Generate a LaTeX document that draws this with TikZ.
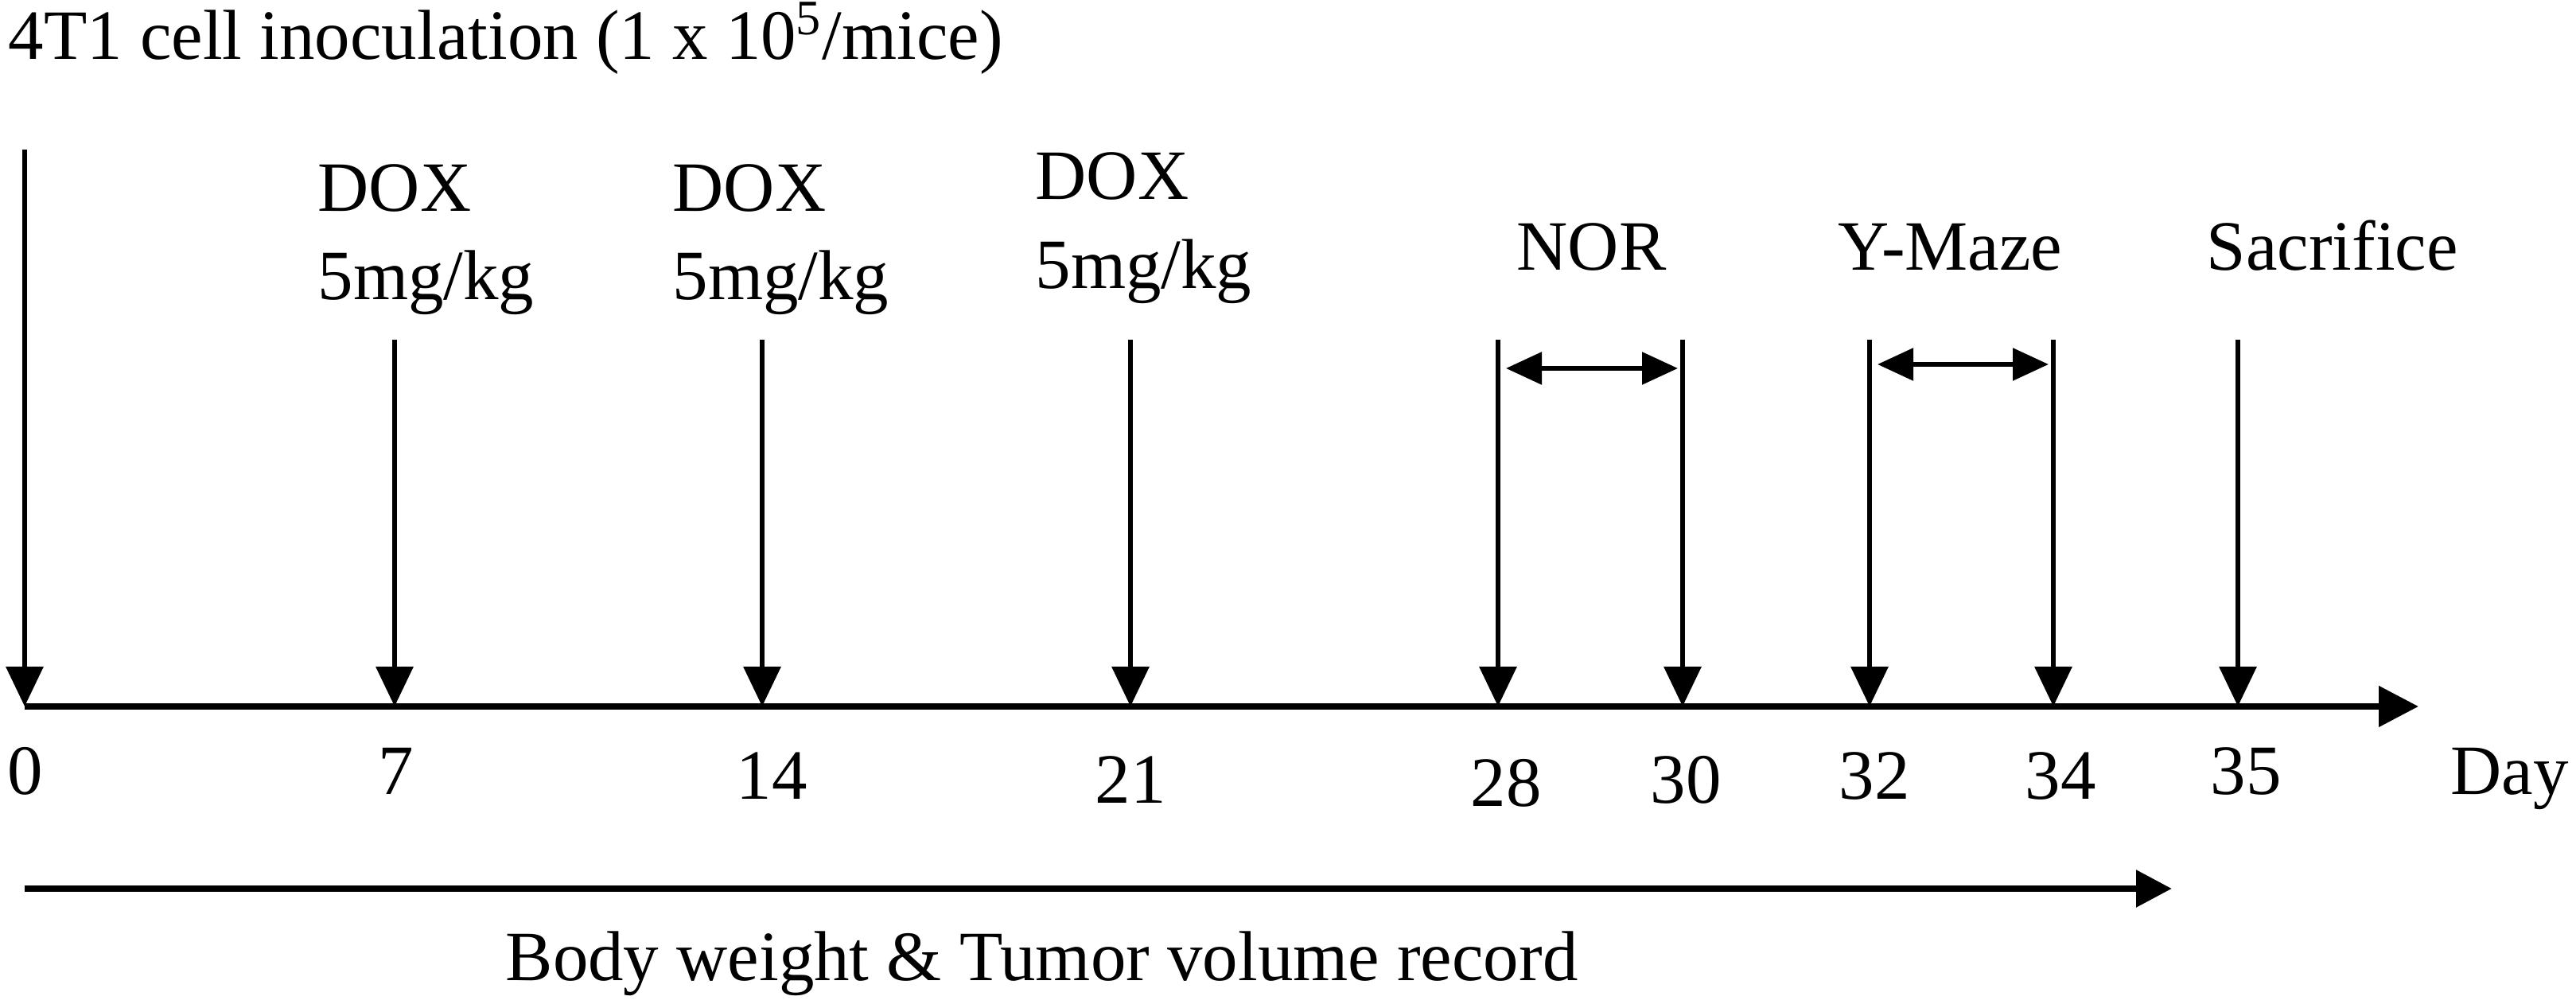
\documentclass[tikz,border=0pt]{standalone}
\usepackage{fontspec}
\setmainfont{Liberation Serif}
\usetikzlibrary{arrows.meta}

\begin{document}
\begin{tikzpicture}[
    txt/.style={inner sep=0pt, anchor=base west, font=\fontsize{25.3}{30}\selectfont},
    num/.style={inner sep=0pt, anchor=base, font=\fontsize{25.3}{30}\selectfont},
    dose/.style={line width=1.8pt, -{Triangle[length=0.5cm,width=0.46cm]}},
    span/.style={line width=1.6pt, {Triangle[length=0.45cm,width=0.4cm]}-{Triangle[length=0.45cm,width=0.4cm]}},
    axis/.style={line width=2.3pt, -{Triangle[length=0.5cm,width=0.5cm]}}
  ]
    \useasboundingbox (0,0) rectangle (32.38,12.62);

    % timeline
    \coordinate (A0) at (0.31,3.74);
    \coordinate (A7) at (4.96,3.74);
    \coordinate (A14) at (9.58,3.74);
    \coordinate (A21) at (14.21,3.74);
    \coordinate (A28) at (18.83,3.74);
    \coordinate (A30) at (21.15,3.74);
    \coordinate (A32) at (23.50,3.74);
    \coordinate (A34) at (25.81,3.74);
    \coordinate (A35) at (28.13,3.74);
    \coordinate (AEnd) at (30.40,3.74);
    \draw[axis] (A0) -- (AEnd);

    % tops of the arrows
    \coordinate (T0) at (0.31,10.74);
    \coordinate (T7) at (4.96,8.35);
    \coordinate (T14) at (9.58,8.35);
    \coordinate (T21) at (14.21,8.35);
    \coordinate (T28) at (18.83,8.35);
    \coordinate (T30) at (21.15,8.35);
    \coordinate (T32) at (23.50,8.35);
    \coordinate (T34) at (25.81,8.35);
    \coordinate (T35) at (28.13,8.35);
    \foreach \d in {0,7,14,21,28,30,32,34,35}
        \draw[dose] (T\d) -- (A\d);

    % test periods
    \coordinate (NL) at (18.93,7.99);
    \coordinate (NR) at (21.09,7.99);
    \coordinate (YL) at (23.60,8.04);
    \coordinate (YR) at (25.75,8.04);
    \draw[span] (NL) -- (NR);
    \draw[span] (YL) -- (YR);

    % labels
    \node[txt] at (0.10,11.87) (inoc) {4T1 cell inoculation (1 x 10\textsuperscript{5}/mice)};
    \node[txt] at (3.99,9.96) (dox1) {DOX};
    \node[txt] at (3.99,8.85) (mg1) {5mg/kg};
    \node[txt] at (8.45,9.96) (dox2) {DOX};
    \node[txt] at (8.45,8.85) (mg2) {5mg/kg};
    \node[txt] at (13.01,10.11) (dox3) {DOX};
    \node[txt] at (13.01,8.99) (mg3) {5mg/kg};
    \node[txt] at (19.06,9.22) (nor) {NOR};
    \node[txt] at (23.10,9.22) (ymaze) {Y-Maze};
    \node[txt] at (27.73,9.22) (sac) {Sacrifice};

    % day numbers
    \node[num] at (0.32,2.63) (d0) {0};
    \node[num] at (4.98,2.63) (d7) {7};
    \node[num] at (9.70,2.57) (d14) {14};
    \node[num] at (14.21,2.52) (d21) {21};
    \node[num] at (18.93,2.48) (d28) {28};
    \node[num] at (21.19,2.52) (d30) {30};
    \node[num] at (23.56,2.57) (d32) {32};
    \node[num] at (25.90,2.57) (d34) {34};
    \node[num] at (28.23,2.63) (d35) {35};
    \node[txt] at (30.80,2.63) (day) {Day};

    % record arrow
    \coordinate (R0) at (0.31,1.45);
    \coordinate (R1) at (27.30,1.45);
    \draw[line width=2.5pt, -{Triangle[length=0.45cm,width=0.45cm]}] (R0) -- (R1);
    \node[txt] at (6.35,0.29) (rec) {Body weight \& Tumor volume record};
\end{tikzpicture}
\end{document}
